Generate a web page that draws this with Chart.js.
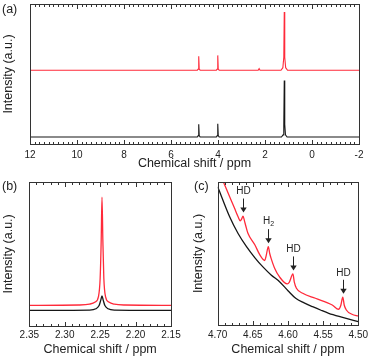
<!DOCTYPE html>
<html>
<head>
<meta charset="utf-8">
<script src="https://cdn.jsdelivr.net/npm/chart.js@4/dist/chart.umd.min.js"></script>
<style>
  body { margin: 0; background: #fff; width: 372px; height: 358px; position: relative; overflow: hidden; }
  canvas { position: absolute; }
  .tag { position: absolute; font: 12.5px 'Liberation Sans', Arial, sans-serif; color: #222; }
</style>
</head>
<body>
<canvas id="chartA" width="372" height="180" style="left:0;top:0"></canvas>
<canvas id="chartB" width="190" height="188" style="left:0;top:170px"></canvas>
<canvas id="chartC" width="182" height="188" style="left:190px;top:170px"></canvas>
<div class="tag" style="left:2px;top:2px">(a)</div>
<div class="tag" style="left:2px;top:179px">(b)</div>
<div class="tag" style="left:194px;top:179px">(c)</div>
<script>
/* ── (a) full spectra ── */
const aBlackPpm = [12, 4.88, 4.84, 4.82, 4.80, 4.76, 4.07, 4.03, 4.01, 3.99, 3.95, 1.30, 1.23, 1.20, 1.18, 1.16, 1.13, 1.06, -2];
const aBlackInt = [5, 5, 6, 14.1, 6, 5, 5, 6, 14.4, 6, 5, 5, 6.5, 14, 45.3, 14, 6.5, 5, 5];
const aRedPpm = [12, 4.88, 4.84, 4.82, 4.80, 4.76, 4.07, 4.03, 4.01, 3.99, 3.95, 2.29, 2.25, 2.21, 1.32, 1.24, 1.20, 1.18, 1.16, 1.12, 1.04, -2];
const aRedInt = [52.7, 52.7, 53.5, 62.6, 53.5, 52.7, 52.7, 53.5, 63.3, 53.5, 52.7, 52.7, 53.8, 52.7, 52.7, 54.5, 62, 94.2, 62, 54.5, 52.7, 52.7];

/* ── (b) 2.25 ppm region ── */
const bBlackPpm = [2.35, 2.265, 2.256, 2.2515, 2.249, 2.2474, 2.2458, 2.2433, 2.2388, 2.23, 2.15];
const bBlackInt = [10.7, 10.9, 11.8, 14, 18, 20.7, 18, 14, 11.8, 10.9, 10.7];
const bRedPpm = [2.35, 2.28, 2.265, 2.257, 2.2525, 2.25, 2.2485, 2.2474, 2.2462, 2.2448, 2.2423, 2.2378, 2.23, 2.215, 2.15];
const bRedInt = [14.2, 14.4, 15, 16.5, 20, 33, 60, 89.4, 60, 33, 20, 16.5, 15, 14.4, 14.2];

/* ── (c) water tail ── */
const cBlackPpm = [4.70, 4.683, 4.671, 4.659, 4.647, 4.636, 4.624, 4.612, 4.600, 4.589, 4.577, 4.565, 4.553, 4.542, 4.521, 4.500];
const cBlackInt = [96.7, 75.7, 64, 54.8, 47, 40.8, 35, 30.3, 24, 18.7, 15.5, 12.8, 10.3, 8.2, 5.2, 2.3];
const cRedPpm = [4.697, 4.692, 4.683, 4.676, 4.671, 4.668, 4.666, 4.664, 4.662, 4.660, 4.657, 4.647, 4.640, 4.633, 4.631, 4.628, 4.626, 4.624, 4.619, 4.612, 4.601, 4.598, 4.593, 4.591, 4.588, 4.579, 4.561, 4.537, 4.528, 4.525, 4.522, 4.520, 4.517, 4.509, 4.500];
const cRedInt = [106, 100.2, 89.7, 81.6, 75.7, 72.9, 74, 76.2, 73, 69.2, 64.1, 55.9, 49, 45.1, 48.5, 54.8, 50, 46.6, 39.7, 33.6, 28.7, 30, 35.7, 30, 25.7, 22.2, 18.7, 14, 11, 13.5, 19.4, 14, 10.5, 7.5, 6.3];

/* ── (c) peak markers ── */
const markPpm = [4.664, 4.628, 4.593, 4.522];
const markInt = [76.2, 54.8, 35.7, 19.4];
const markText = ["HD", "H2", "HD", "HD"];

const RED = "#ff2a3a";
const BLACK = "#161616";
const FONT = "'Liberation Sans', Arial, sans-serif";

Chart.defaults.font.family = FONT;
Chart.defaults.color = "#222";

const pts = (xs, ys) => xs.map((x, i) => ({ x, y: ys[i] }));

/* frame + inward ticks on top and bottom */
const framePlugin = {
  id: "frame",
  afterDraw(chart, args, opts) {
    const { ctx, chartArea: a, scales: { x } } = chart;
    const L = Math.round(a.left) + 0.5, R = Math.round(a.right) + 0.5;
    const T = Math.round(a.top) + 0.5, B = Math.round(a.bottom) + 0.5;
    ctx.save();
    ctx.strokeStyle = "#333";
    ctx.lineWidth = 1;
    ctx.strokeRect(L, T, R - L, B - T);
    const n = Math.round((x.max - x.min) / opts.minor);
    ctx.beginPath();
    for (let i = 0; i <= n; i++) {
      const v = x.min + i * opts.minor;
      const px = Math.round(x.getPixelForValue(v)) + 0.5;
      const r = v / opts.major;
      const len = Math.abs(r - Math.round(r)) < 1e-6 ? 4.5 : 2.5;
      ctx.moveTo(px, T); ctx.lineTo(px, T + len);
      ctx.moveTo(px, B); ctx.lineTo(px, B - len);
    }
    ctx.stroke();
    ctx.restore();
  },
};

/* arrows + labels for (c) */
const arrowPlugin = {
  id: "arrows",
  afterDatasetsDraw(chart) {
    const { ctx, scales: { x, y } } = chart;
    ctx.save();
    ctx.fillStyle = "#222";
    ctx.strokeStyle = "#222";
    ctx.lineWidth = 1;
    markPpm.forEach((p, i) => {
      const px = Math.round(x.getPixelForValue(p)) + 0.5;
      const tip = y.getPixelForValue(markInt[i]) - 3.5;
      const top = tip - 14;
      ctx.beginPath();
      ctx.moveTo(px, top);
      ctx.lineTo(px, tip - 4);
      ctx.stroke();
      ctx.beginPath();
      ctx.moveTo(px - 3.2, tip - 5);
      ctx.lineTo(px + 3.2, tip - 5);
      ctx.lineTo(px, tip);
      ctx.closePath();
      ctx.fill();
      const t = markText[i];
      ctx.textBaseline = "middle";
      if (t === "H2") {
        ctx.font = "10px " + FONT;
        const wH = ctx.measureText("H").width;
        ctx.font = "7px " + FONT;
        const w2 = ctx.measureText("2").width;
        const x0 = px - (wH + w2) / 2;
        ctx.textAlign = "left";
        ctx.font = "10px " + FONT;
        ctx.fillText("H", x0, top - 8);
        ctx.font = "7px " + FONT;
        ctx.fillText("2", x0 + wH, top - 5);
      } else {
        ctx.font = "10px " + FONT;
        ctx.textAlign = "center";
        ctx.fillText(t, px, top - 7);
      }
    });
    ctx.restore();
  },
};

function makeChart(id, cfg) {
  return new Chart(document.getElementById(id), {
    type: "line",
    data: {
      datasets: cfg.series.map(s => ({
        data: pts(s.xs, s.ys),
        borderColor: s.color,
        borderWidth: cfg.lw,
        pointRadius: 0,
        fill: false,
        tension: cfg.tension,
        cubicInterpolationMode: cfg.tension ? "monotone" : "default",
      })),
    },
    options: {
      responsive: false,
      animation: false,
      devicePixelRatio: 1,
      layout: { padding: cfg.pad },
      plugins: {
        legend: { display: false },
        tooltip: { enabled: false },
        frame: { major: cfg.major, minor: cfg.minor },
      },
      scales: {
        x: {
          type: "linear",
          reverse: true,
          min: cfg.xmin,
          max: cfg.xmax,
          grid: { display: false, drawTicks: false },
          border: { display: false },
          ticks: {
            stepSize: cfg.major,
            padding: cfg.tickPad,
            maxRotation: 0,
            autoSkip: false,
            font: { size: 10 },
            color: "#222",
            callback: v => cfg.fmt(v),
          },
          title: {
            display: true,
            text: "Chemical shift / ppm",
            font: { size: 12.5 },
            color: "#222",
            padding: { top: 0, bottom: cfg.titlePad },
          },
          afterFit: s => { s.height = cfg.xh; },
        },
        y: {
          min: 0,
          max: 100,
          grid: { display: false, drawTicks: false },
          border: { display: false },
          ticks: { display: false },
          title: {
            display: true,
            text: "Intensity (a.u.)",
            font: { size: 12.5 },
            color: "#222",
            padding: { top: 1, bottom: 0 },
          },
          afterFit: s => { s.width = cfg.yw; },
        },
      },
    },
    plugins: cfg.extra ? [framePlugin, cfg.extra] : [framePlugin],
  });
}

makeChart("chartA", {
  series: [
    { xs: aRedPpm, ys: aRedInt, color: RED },
    { xs: aBlackPpm, ys: aBlackInt, color: BLACK },
  ],
  lw: 1.1, tension: 0,
  xmin: -2, xmax: 12, major: 2, minor: 0.2,
  fmt: v => String(Math.round(v)),
  pad: { left: 0, right: 13, top: 4, bottom: 0 },
  xh: 36, yw: 30, tickPad: 5, titlePad: 8.5,
});

makeChart("chartB", {
  series: [
    { xs: bRedPpm, ys: bRedInt, color: RED },
    { xs: bBlackPpm, ys: bBlackInt, color: BLACK },
  ],
  lw: 1.3, tension: 0.4,
  xmin: 2.15, xmax: 2.35, major: 0.05, minor: 0.01,
  fmt: v => v.toFixed(2),
  pad: { left: 0, right: 19, top: 12, bottom: 0 },
  xh: 32.3, yw: 29.3, tickPad: 4, titlePad: 0.5,
});

makeChart("chartC", {
  series: [
    { xs: cRedPpm, ys: cRedInt, color: RED },
    { xs: cBlackPpm, ys: cBlackInt, color: BLACK },
  ],
  lw: 1.3, tension: 0.4,
  xmin: 4.50, xmax: 4.70, major: 0.05, minor: 0.01,
  fmt: v => v.toFixed(2),
  pad: { left: 0, right: 12.3, top: 12, bottom: 0 },
  xh: 33, yw: 27.7, tickPad: 4, titlePad: 0.5,
  extra: arrowPlugin,
});
</script>
</body>
</html>
